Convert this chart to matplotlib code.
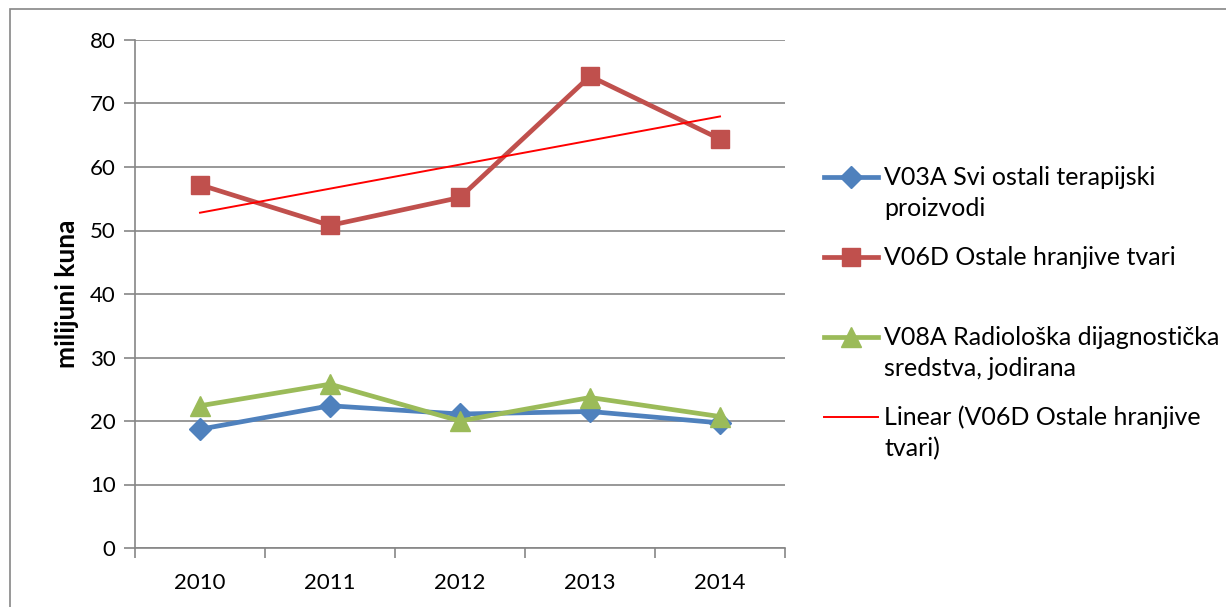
import matplotlib
matplotlib.use("Agg")
import matplotlib.pyplot as plt
from matplotlib.lines import Line2D
from matplotlib.patches import Rectangle
import numpy as np

years = ["2010", "2011", "2012", "2013", "2014"]
v03a = [18.7, 22.4, 21.1, 21.5, 19.7]
v06d = [57.2, 50.8, 55.2, 74.3, 64.4]
v08a = [22.4, 25.8, 20.0, 23.7, 20.7]
labels = ["V03A Svi ostali terapijski\nproizvodi",
          "V06D Ostale hranjive tvari",
          "V08A Radiološka dijagnostička\nsredstva, jodirana",
          "Linear (V06D Ostale hranjive\ntvari)"]
y_ticks = [0, 10, 20, 30, 40, 50, 60, 70, 80]

plt.rcParams['font.family'] = ['Lato', 'DejaVu Sans']

W, H = 1226, 607
fig = plt.figure(figsize=(W / 100, H / 100), dpi=100)
fig.patches.append(Rectangle((10 / W, -0.1), 1.2, 1 - 9 / H + 0.1, transform=fig.transFigure,
                             fill=False, edgecolor='#868686', linewidth=1.2))

ax = fig.add_axes([135 / W, 1 - 548 / H, (785 - 135) / W, (548 - 40) / H])
x = np.arange(len(years))

blue = '#4F81BD'
red = '#C0504D'
green = '#9BBB59'

ax.plot(x, v03a, color=blue, lw=3.4, marker='D', ms=11, zorder=3)
ax.plot(x, v06d, color=red, lw=3.4, marker='s', ms=13, zorder=3)
ax.plot(x, v08a, color=green, lw=3.4, marker='^', ms=14, zorder=3)
coef = np.polyfit(x, v06d, 1)
ax.plot(x[[0, -1]], np.polyval(coef, x[[0, -1]]), color='#FF0000', lw=1.4, zorder=4)

ax.set_xlim(-0.5, len(years) - 0.5)
ax.set_ylim(0, 80)
ax.set_yticks(y_ticks)
ax.set_xticks(x)
ax.set_xticklabels(years)
ax.set_xticks(np.arange(-0.5, len(years), 1), minor=True)
ax.tick_params(axis='x', which='major', length=0, pad=18, labelsize=16)
ax.tick_params(axis='x', which='minor', length=7, color='#868686', width=1.2)
ax.tick_params(axis='y', length=8, color='#868686', width=1.2, labelsize=16, pad=6)
ax.yaxis.grid(True, color='#868686', lw=1.2)
ax.set_axisbelow(True)
for s in ['top', 'right']:
    ax.spines[s].set_visible(False)
for s in ['left', 'bottom']:
    ax.spines[s].set_color('#868686')
    ax.spines[s].set_linewidth(1.2)
ax.set_ylabel('milijuni kuna', fontsize=19, fontweight='bold', labelpad=8)

# legend drawn manually (Excel-style evenly spaced entries)
styles = [dict(color=blue, lw=3.4, marker='D', ms=11),
          dict(color=red, lw=3.4, marker='s', ms=13),
          dict(color=green, lw=3.4, marker='^', ms=14),
          dict(color='#FF0000', lw=1.4)]
ys = [177, 257, 337, 417]
for lab, st, yy in zip(labels, styles, ys):
    fy = 1 - yy / H
    fig.add_artist(Line2D([824 / W, 878 / W], [fy, fy], transform=fig.transFigure,
                          color=st['color'], lw=st['lw']))
    if 'marker' in st:
        fig.add_artist(Line2D([851 / W], [fy], transform=fig.transFigure, color=st['color'],
                              marker=st['marker'], ms=st['ms'], lw=0))
    for i, line in enumerate(lab.split('\n')):
        fig.text(884 / W, 1 - (yy + 8 + 31 * i) / H, line, fontsize=18, va='baseline', ha='left')

fig.savefig('out.png', dpi=100)
